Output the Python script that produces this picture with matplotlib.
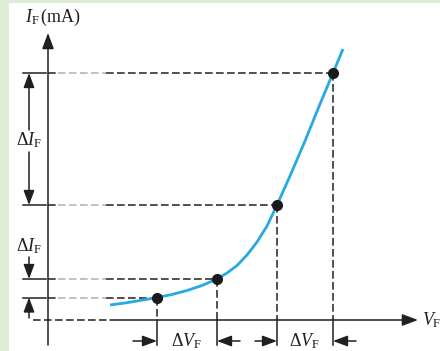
import matplotlib
matplotlib.use("Agg")
import matplotlib.pyplot as plt

plt.rcParams['mathtext.fontset'] = 'custom'
plt.rcParams['mathtext.rm'] = 'Liberation Serif'
plt.rcParams['mathtext.it'] = 'Liberation Serif:italic'
plt.rcParams['mathtext.bf'] = 'Liberation Serif:bold'

# ---- data (V_F in arbitrary volts, I_F in mA) ----
curve_v = [0.62, 0.77, 0.92, 1.09, 1.24, 1.39, 1.54, 1.69, 1.79, 1.89,
           1.99, 2.09, 2.19, 2.29, 2.42, 2.57, 2.72, 2.85, 2.95]
curve_i = [1.5, 1.7, 1.95, 2.25, 2.55, 2.95, 3.45, 4.1, 4.7, 5.45,
           6.5, 7.8, 9.4, 11.5, 14.4, 17.9, 21.6, 24.7, 27.1]
point_v = [1.09, 1.69, 2.29, 2.85]
point_i = [2.25, 4.1, 11.5, 24.7]
y_label = r'$I_{\mathrm{F}}\,(\mathrm{mA})$'
x_label = r'$V_{\mathrm{F}}$'
di_label = r'$\Delta I_{\mathrm{F}}$'
dv_label = r'$\Delta V_{\mathrm{F}}$'

INK = '#231f20'
BLUE = '#27aae1'
GRAY = '#b0b0b0'
FS = 13

fig = plt.figure(figsize=(4.4, 3.51), dpi=100)
fig.patch.set_facecolor('#deedd6')
ax = fig.add_axes([9 / 440, 0, 431 / 440, 348 / 351])
ax.set_facecolor('white')
for s in ax.spines.values():
    s.set_visible(False)
ax.set_xticks([]); ax.set_yticks([])
ax.set_xlim(-0.39, 3.92)
ax.set_ylim(-3.1, 31.7)

dash = (0, (5, 2.2))
lw = 1.1

def arrow(x0, y0, x1, y1, hl=0.8, hw=0.3, ms=11):
    ax.annotate('', xy=(x1, y1), xytext=(x0, y0),
                arrowprops=dict(arrowstyle=f'-|>,head_length={hl},head_width={hw}',
                                color=INK, lw=1.1, shrinkA=0, shrinkB=0,
                                mutation_scale=ms),
                annotation_clip=False)

# axes
arrow(0, -2.5, 0, 28.7, hl=0.8, hw=0.3, ms=12)
ax.plot([-0.15, 0.62], [0, 0], color=INK, lw=lw, ls=dash)
arrow(0.62, 0, 3.70, 0, hl=0.8, hw=0.3, ms=12)

# guide lines for each operating point
g1, g2 = 0.10, 0.58
for v, i in zip(point_v, point_i):
    ax.plot([-0.25, -0.02], [i, i], color=INK, lw=lw)
    ax.plot([0, g1], [i, i], color=INK, lw=lw, ls=dash)
    ax.plot([g1, g2], [i, i], color=GRAY, lw=lw, ls=dash)
    ax.plot([g2, v], [i, i], color=INK, lw=lw, ls=dash)
    ax.plot([v, v], [i, 0], color=INK, lw=lw, ls=dash)
    ax.plot([v, v], [0, -2.5], color=INK, lw=lw)

# curve and points
ax.plot(curve_v, curve_i, color=BLUE, lw=2.0, solid_capstyle='butt',
        solid_joinstyle='round', zorder=5)
ax.plot(point_v, point_i, 'o', color='#1a1a1a', ms=7, zorder=6)

# delta I annotations
xa = -0.19
arrow(xa, 19.0, xa, point_i[3])
arrow(xa, 16.8, xa, point_i[2])
ax.text(xa, 18.0, di_label, fontsize=FS, color=INK, ha='center', va='center')
arrow(xa, 6.3, xa, point_i[1])
arrow(xa, 0.2, xa, point_i[0])
ax.text(xa, 7.4, di_label, fontsize=FS, color=INK, ha='center', va='center')

# delta V annotations
ya = -2.1
arrow(0.85, ya, point_v[0], ya)
arrow(1.92, ya, point_v[1], ya)
arrow(2.07, ya, point_v[2], ya)
arrow(3.08, ya, point_v[3], ya)
ax.text((point_v[0] + point_v[1]) / 2, ya, dv_label, fontsize=FS, color=INK,
        ha='center', va='center')
ax.text((point_v[2] + point_v[3]) / 2, ya, dv_label, fontsize=FS, color=INK,
        ha='center', va='center')

# axis labels
ax.text(-0.23, 30.3, y_label, fontsize=FS, color=INK, ha='left', va='center')
ax.text(3.74, 0.0, x_label, fontsize=FS, color=INK, ha='left', va='center',
        clip_on=False)

fig.savefig('out.png', dpi=100, facecolor=fig.get_facecolor())
